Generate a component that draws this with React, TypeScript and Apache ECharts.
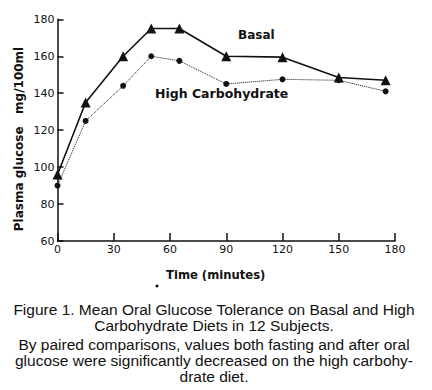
import React, { useEffect, useRef } from "react";
import * as echarts from "echarts";

const times = [0, 15, 35, 50, 65, 90, 120, 150, 175];
const basal = [96, 135, 160, 175, 175, 160, 159.5, 148.5, 147];
const highCarb = [90, 125, 144, 160, 157.5, 145, 147.5, 147, 141];
const captionLines = [
  "Figure 1. Mean Oral Glucose Tolerance on Basal and High",
  "Carbohydrate Diets in 12 Subjects.",
  "By paired comparisons, values both fasting and after oral",
  "glucose were significantly decreased on the high carbohy-",
  "drate diet.",
];
const captionY = [309, 325, 344, 360, 376];

export default function App() {
  const ref = useRef<HTMLDivElement>(null);
  useEffect(() => {
    const chart = echarts.init(ref.current!, null, { renderer: "svg" });
    const axisFont = { fontFamily: "DejaVu Sans", fontSize: 11, color: "#111" };
    chart.setOption({
      animation: false,
      backgroundColor: "#fff",
      grid: { left: 57.5, right: 37, top: 19.3, bottom: 149 },
      xAxis: {
        type: "value",
        min: 0,
        max: 180,
        interval: 30,
        splitLine: { show: false },
        axisLine: { lineStyle: { color: "#111", width: 1.5 } },
        axisTick: { inside: true, length: 8, lineStyle: { color: "#111", width: 1.5 } },
        axisLabel: { ...axisFont, margin: 3 },
      },
      yAxis: {
        type: "value",
        min: 60,
        max: 180,
        interval: 20,
        splitLine: { show: false },
        axisLine: { show: true, lineStyle: { color: "#111", width: 1.5 } },
        axisTick: { show: true, inside: true, length: 6, lineStyle: { color: "#111", width: 1.5 } },
        axisLabel: { ...axisFont, margin: 3 },
      },
      series: [
        {
          name: "Basal",
          type: "line",
          data: times.map((t, i) => [t, basal[i]]),
          symbol: "triangle",
          symbolSize: 10,
          itemStyle: { color: "#111" },
          lineStyle: { color: "#111", width: 1.6 },
        },
        {
          name: "High Carbohydrate",
          type: "line",
          data: times.map((t, i) => [t, highCarb[i]]),
          symbol: "circle",
          symbolSize: 6,
          itemStyle: { color: "#111" },
          lineStyle: { color: "#111", width: 1, type: "dotted" },
        },
      ],
      graphic: [
        {
          type: "text",
          x: 238,
          y: 35,
          style: { text: "Basal", fontFamily: "DejaVu Sans", fontWeight: "bold", fontSize: 12, fill: "#111", textVerticalAlign: "middle" },
        },
        {
          type: "text",
          x: 155,
          y: 93,
          style: { text: "High Carbohydrate", fontFamily: "DejaVu Sans", fontWeight: "bold", fontSize: 12.5, fill: "#111", textVerticalAlign: "middle" },
        },
        {
          type: "text",
          x: 19,
          y: 139,
          rotation: Math.PI / 2,
          style: { text: "Plasma glucose   mg/100ml", fontFamily: "DejaVu Sans", fontWeight: "bold", fontSize: 12, fill: "#111", textAlign: "center", textVerticalAlign: "middle" },
        },
        {
          type: "text",
          x: 166,
          y: 275,
          style: { text: "Time (minutes)", fontFamily: "DejaVu Sans", fontWeight: "bold", fontSize: 11.6, fill: "#111", textVerticalAlign: "middle" },
        },
        { type: "circle", shape: { cx: 157, cy: 286, r: 1.5 }, style: { fill: "#111" } },
        ...captionLines.map((t, i) => ({
          type: "text",
          x: 214,
          y: captionY[i],
          style: { text: t, fontFamily: "Liberation Sans", fontSize: 15.5, fill: "#111", textAlign: "center", textVerticalAlign: "middle" },
        })),
      ],
    });
    return () => chart.dispose();
  }, []);
  return <div ref={ref} style={{ position: "fixed", left: 0, top: 0, width: 432, height: 390 }} />;
}
